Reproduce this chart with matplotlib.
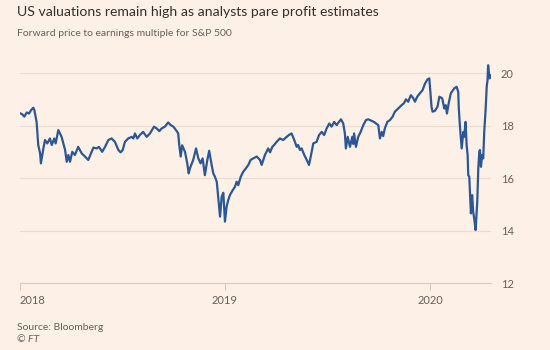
import matplotlib.pyplot as plt

# forward P/E for S&P 500 (x = decimal year)
years = [
    2018.003, 2018.011, 2018.021, 2018.033, 2018.044, 2018.054, 2018.065, 2018.070,
    2018.081, 2018.089, 2018.098, 2018.102, 2018.114, 2018.122, 2018.133, 2018.146,
    2018.155, 2018.167, 2018.174, 2018.187, 2018.203, 2018.220, 2018.228, 2018.236,
    2018.244, 2018.255, 2018.268, 2018.284, 2018.301, 2018.317, 2018.333, 2018.358,
    2018.374, 2018.385, 2018.401, 2018.415, 2018.431, 2018.447, 2018.463, 2018.480,
    2018.491, 2018.501, 2018.512, 2018.528, 2018.545, 2018.553, 2018.561, 2018.572,
    2018.585, 2018.601, 2018.618, 2018.634, 2018.654, 2018.667, 2018.680, 2018.691,
    2018.707, 2018.723, 2018.735, 2018.748, 2018.761, 2018.772, 2018.777, 2018.784,
    2018.791, 2018.805, 2018.816, 2018.823, 2018.829, 2018.845, 2018.859, 2018.870,
    2018.881, 2018.891, 2018.902, 2018.914, 2018.923, 2018.935, 2018.943, 2018.951,
    2018.960, 2018.967, 2018.976, 2018.984, 2018.992, 2019.000, 2019.008, 2019.016,
    2019.024, 2019.038, 2019.049, 2019.057, 2019.065, 2019.077, 2019.089, 2019.102,
    2019.114, 2019.125, 2019.138, 2019.155, 2019.171, 2019.179, 2019.195, 2019.211,
    2019.220, 2019.231, 2019.240, 2019.252, 2019.268, 2019.284, 2019.301, 2019.312,
    2019.325, 2019.338, 2019.350, 2019.357, 2019.366, 2019.374, 2019.387, 2019.399,
    2019.410, 2019.420, 2019.431, 2019.447, 2019.459, 2019.472, 2019.484, 2019.496,
    2019.509, 2019.520, 2019.533, 2019.545, 2019.556, 2019.566, 2019.577, 2019.585,
    2019.590, 2019.599, 2019.610, 2019.621, 2019.626, 2019.630, 2019.639, 2019.650,
    2019.662, 2019.675, 2019.688, 2019.699, 2019.716, 2019.727, 2019.737, 2019.748,
    2019.756, 2019.765, 2019.772, 2019.780, 2019.792, 2019.805, 2019.818, 2019.829,
    2019.845, 2019.862, 2019.873, 2019.883, 2019.894, 2019.907, 2019.919, 2019.927,
    2019.938, 2019.951, 2019.964, 2019.976, 2019.988, 2019.997, 2020.002, 2020.008,
    2020.013, 2020.024, 2020.037, 2020.046, 2020.060, 2020.070, 2020.077, 2020.083,
    2020.093, 2020.102, 2020.119, 2020.130, 2020.138, 2020.141, 2020.146, 2020.155,
    2020.163, 2020.167, 2020.174, 2020.179, 2020.184, 2020.187, 2020.192, 2020.197,
    2020.200, 2020.206, 2020.211, 2020.216, 2020.223, 2020.231, 2020.236, 2020.241,
    2020.244, 2020.249, 2020.255, 2020.260, 2020.265, 2020.272, 2020.277, 2020.281,
    2020.284, 2020.288, 2020.291, 2020.294,
]
pe = [
    18.46, 18.43, 18.34, 18.50, 18.46, 18.59, 18.68, 18.59,
    18.14, 17.26, 16.94, 16.56, 17.13, 17.45, 17.32, 17.51,
    17.26, 17.51, 17.32, 17.83, 17.57, 17.07, 16.62, 16.88,
    16.62, 17.00, 16.88, 17.19, 16.94, 16.82, 16.69, 17.16,
    17.13, 17.19, 17.00, 17.19, 17.45, 17.51, 17.38, 17.07,
    16.98, 17.07, 17.38, 17.51, 17.57, 17.51, 17.70, 17.51,
    17.64, 17.76, 17.57, 17.70, 17.96, 17.89, 17.79, 17.89,
    17.96, 18.12, 18.02, 17.96, 17.83, 17.70, 17.26, 16.82,
    17.25, 17.00, 16.56, 16.18, 16.37, 16.69, 17.13, 16.75,
    16.56, 16.75, 16.11, 16.69, 17.04, 16.50, 16.18, 16.05,
    15.86, 15.29, 14.53, 15.29, 15.44, 14.34, 14.91, 15.16,
    15.35, 15.54, 15.67, 15.86, 15.73, 16.05, 16.24, 16.37,
    16.50, 16.69, 16.75, 16.82, 16.69, 16.50, 16.88, 17.13,
    16.98, 17.19, 17.26, 17.38, 17.51, 17.45, 17.57, 17.64,
    17.70, 17.45, 17.19, 17.26, 17.07, 17.13, 16.88, 16.69,
    16.50, 16.88, 17.32, 17.38, 17.64, 17.76, 17.64, 17.89,
    18.08, 17.96, 18.14, 18.02, 18.14, 18.24, 18.08, 17.70,
    17.13, 17.57, 17.19, 17.57, 17.30, 17.70, 17.19, 17.57,
    17.76, 18.02, 18.21, 18.24, 18.18, 18.14, 18.08, 18.02,
    17.51, 17.76, 17.60, 17.89, 18.14, 18.21, 18.34, 18.53,
    18.65, 18.78, 18.85, 19.00, 18.91, 19.16, 19.04, 18.91,
    19.10, 19.23, 19.35, 19.60, 19.76, 19.80, 19.30, 18.70,
    18.53, 18.56, 18.72, 19.10, 19.04, 18.65, 18.78, 18.46,
    18.91, 19.23, 19.42, 19.48, 19.29, 18.65, 18.02, 17.13,
    17.76, 17.57, 18.14, 17.26, 16.88, 16.11, 16.05, 15.23,
    14.65, 15.35, 14.72, 14.46, 14.02, 15.10, 16.37, 17.00,
    17.07, 16.43, 16.88, 16.75, 17.76, 18.65, 19.48, 19.73,
    20.30, 19.99, 19.80, 19.92,
]
yticks = [12, 14, 16, 18, 20]
xticks = [2018, 2019, 2020]

bg = "#fdf0e6"
ink = "#66605c"
font = "Lato"

fig = plt.figure(figsize=(5.5, 3.5), dpi=100, facecolor=bg)
ax = fig.add_axes([20 / 550, 1 - 283 / 350, 471 / 550, 223 / 350])
ax.set_facecolor(bg)

ax.plot(years, pe, color="#2c5796", lw=1.6, solid_joinstyle="round")

ax.set_ylim(12, 20.5)
ax.set_xlim(2018, 2020.298)

ax.set_yticks(yticks)
ax.yaxis.tick_right()
ax.tick_params(axis="y", length=0, pad=7, labelsize=8, labelcolor=ink)
ax.grid(axis="y", color="#e9ddd3", lw=0.8)

ax.set_xticks(xticks)
ax.set_xticklabels([str(y) for y in xticks])
ax.tick_params(axis="x", length=5, color="#d8ccc2", pad=4, labelsize=8, labelcolor=ink)
ax.get_xticklabels()[0].set_horizontalalignment("left")
for lab in ax.get_xticklabels() + ax.get_yticklabels():
    lab.set_family(font)

for s in ["top", "right", "left"]:
    ax.spines[s].set_visible(False)
ax.spines["bottom"].set_color("#d8ccc2")
ax.spines["bottom"].set_linewidth(0.8)

fig.text(17 / 550, 1 - 12 / 350, "US valuations remain high as analysts pare profit estimates",
         fontsize=10.1, color="#33302e", va="center", family=font)
fig.text(17 / 550, 1 - 33 / 350, "Forward price to earnings multiple for S&P 500",
         fontsize=7.5, color=ink, va="center", family=font)
fig.text(17 / 550, 1 - 327 / 350, "Source: Bloomberg",
         fontsize=7.5, color=ink, va="center", family=font)
fig.text(17 / 550, 1 - 340 / 350, "© FT",
         fontsize=7.5, color=ink, va="center", style="italic", family=font)

fig.savefig("out.png", dpi=100, facecolor=bg)
plt.close(fig)
